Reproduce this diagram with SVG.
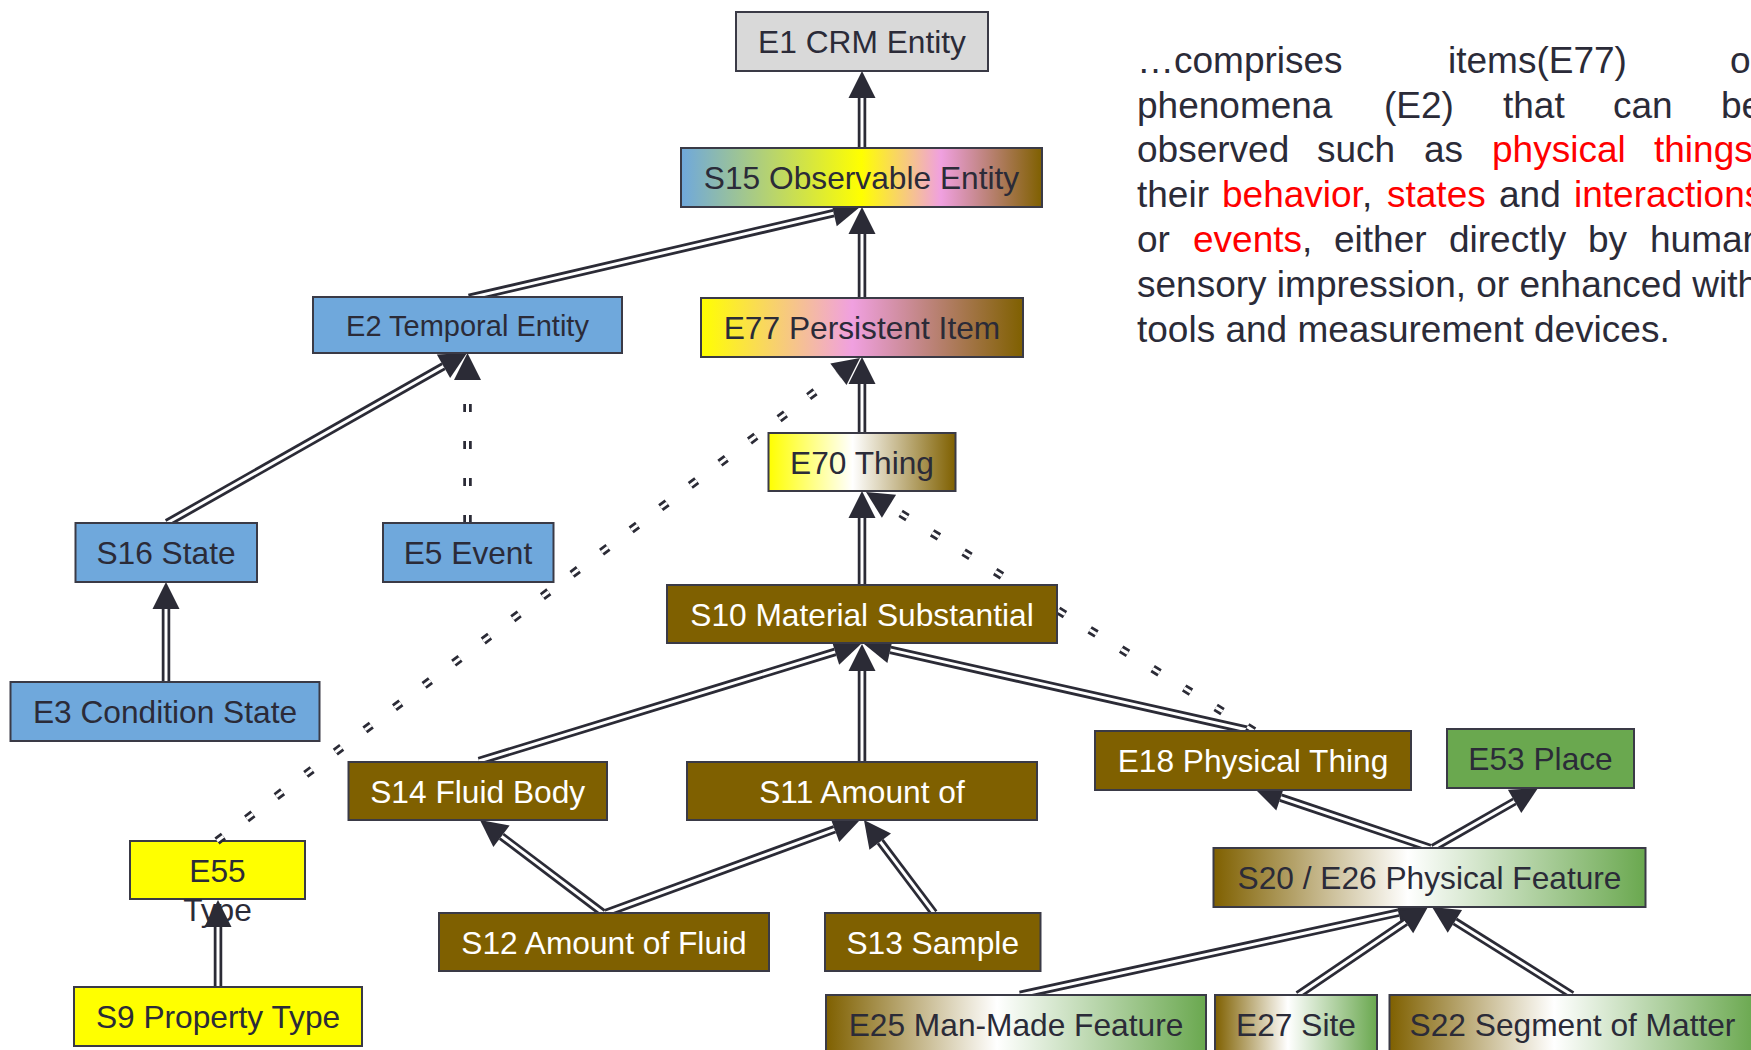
<svg xmlns="http://www.w3.org/2000/svg" width="1751" height="1050" viewBox="0 0 1751 1050">
<defs>
<style>
.node rect{stroke:#3a3a46;stroke-width:2}
.node text{font-family:"Liberation Sans",Arial,sans-serif;font-size:31.7px;text-anchor:middle;fill:#2b2b38}
.node.w text{fill:#ffffff}
.o{fill:none;stroke:#2b2b36;stroke-width:8.5}
.i{fill:none;stroke:#ffffff;stroke-width:3;marker-end:url(#ah)}
.d{stroke-dasharray:8 29}
.p{font-family:"Liberation Sans",Arial,sans-serif;font-size:37px;fill:#2b2b38}
.r{fill:#ff0000}
</style>
<marker id="ah" markerUnits="userSpaceOnUse" markerWidth="27" markerHeight="27" viewBox="0 0 27 27" refX="0" refY="13.5" orient="auto" overflow="visible">
<path d="M0,0 L27,13.5 L0,27 Z" fill="#2b2b36"/>
</marker>
<linearGradient id="gS15" x1="0" y1="0" x2="1" y2="0">
<stop offset="0" stop-color="#6fa8dc"/><stop offset="0.5" stop-color="#ffff00"/><stop offset="0.72" stop-color="#f0a0e0"/><stop offset="1" stop-color="#7f6000"/>
</linearGradient>
<linearGradient id="gE77" x1="0" y1="0" x2="1" y2="0">
<stop offset="0" stop-color="#ffff00"/><stop offset="0.47" stop-color="#f0a0e0"/><stop offset="1" stop-color="#7f6000"/>
</linearGradient>
<linearGradient id="gE70" x1="0" y1="0" x2="1" y2="0">
<stop offset="0" stop-color="#ffff00"/><stop offset="0.45" stop-color="#ffffff"/><stop offset="1" stop-color="#7f6000"/>
</linearGradient>
<linearGradient id="gPF" x1="0" y1="0" x2="1" y2="0">
<stop offset="0" stop-color="#7f6000"/><stop offset="0.45" stop-color="#ffffff"/><stop offset="1" stop-color="#6aa84f"/>
</linearGradient>
</defs>
<rect width="1751" height="1050" fill="#ffffff"/>

<g id="E55" class="node"><rect x="130" y="841" width="175" height="58" fill="#ffff00"/><text x="217.5" y="881.5">E55</text><text x="217.5" y="921">Type</text></g>

<g id="connectors">
<g id="c-S15-E1"><path class="o" d="M862,148 L862,98"/><path class="i" d="M862,148 L862,98"/></g>
<g id="c-E77-S15"><path class="o" d="M862,298 L862,234"/><path class="i" d="M862,298 L862,234"/></g>
<g id="c-E2-S15"><path class="o" d="M469,298 L833.7,213.1"/><path class="i" d="M469,298 L833.7,213.1"/></g>
<g id="c-E70-E77"><path class="o" d="M862,433 L862,384"/><path class="i" d="M862,433 L862,384"/></g>
<g id="c-S10-E70"><path class="o" d="M862,585 L862,518"/><path class="i" d="M862,585 L862,518"/></g>
<g id="c-S16-E2"><path class="o" d="M167,523 L443.5,366.3"/><path class="i" d="M167,523 L443.5,366.3"/></g>
<g id="c-E5-E2"><path class="o d" d="M467.5,523 L467.5,380"/><path class="i d" d="M467.5,523 L467.5,380"/></g>
<g id="c-E3-S16"><path class="o" d="M166,682 L166,609"/><path class="i" d="M166,682 L166,609"/></g>
<g id="c-S11-S10"><path class="o" d="M862,762 L862,671"/><path class="i" d="M862,762 L862,671"/></g>
<g id="c-S14-S10"><path class="o" d="M479,761 L835.2,651.9"/><path class="i" d="M479,761 L835.2,651.9"/></g>
<g id="c-E18-S10"><path class="o" d="M1252,731 L890.3,649.9"/><path class="i" d="M1252,731 L890.3,649.9"/></g>
<g id="c-E18-E70"><path class="o d" d="M1254,731 L889,506.2"/><path class="i d" d="M1254,731 L889,506.2"/></g>
<g id="c-E55-E77"><path class="o d" d="M217,841 L838.4,374.2"/><path class="i d" d="M217,841 L838.4,374.2"/></g>
<g id="c-S9-E55"><path class="o" d="M218,987 L218,927"/><path class="i" d="M218,987 L218,927"/></g>
<g id="c-S12-S14"><path class="o" d="M603,913 L501.5,836.3"/><path class="i" d="M603,913 L501.5,836.3"/></g>
<g id="c-S12-S11"><path class="o" d="M606,913 L834.6,829.3"/><path class="i" d="M606,913 L834.6,829.3"/></g>
<g id="c-S13-S11"><path class="o" d="M934,913 L880.2,841.6"/><path class="i" d="M934,913 L880.2,841.6"/></g>
<g id="c-S20-E18"><path class="o" d="M1430,848 L1280.6,797.6"/><path class="i" d="M1430,848 L1280.6,797.6"/></g>
<g id="c-S20-E53"><path class="o" d="M1433,848 L1514.6,801.4"/><path class="i" d="M1433,848 L1514.6,801.4"/></g>
<g id="c-E25-S20"><path class="o" d="M1020,995 L1398.6,912.7"/><path class="i" d="M1020,995 L1398.6,912.7"/></g>
<g id="c-E27-S20"><path class="o" d="M1298,995 L1405.6,922.1"/><path class="i" d="M1298,995 L1405.6,922.1"/></g>
<g id="c-S22-S20"><path class="o" d="M1572,995 L1454.9,921.4"/><path class="i" d="M1572,995 L1454.9,921.4"/></g>
</g>

<g id="E1" class="node"><rect x="736" y="12" width="252" height="59" fill="#d9d9d9"/><text x="862" y="53">E1 CRM Entity</text></g>
<g id="S15" class="node"><rect x="681" y="148" width="361" height="59" fill="url(#gS15)"/><text x="861.5" y="189">S15 Observable Entity</text></g>
<g id="E2" class="node"><rect x="313" y="297" width="309" height="56" fill="#6fa8dc"/><text x="467.5" y="335.5" style="font-size:29px">E2 Temporal Entity</text></g>
<g id="E77" class="node"><rect x="701" y="298" width="322" height="59" fill="url(#gE77)"/><text x="862" y="339">E77 Persistent Item</text></g>
<g id="E70" class="node"><rect x="768.5" y="433" width="187" height="58" fill="url(#gE70)"/><text x="862" y="474">E70 Thing</text></g>
<g id="S16" class="node"><rect x="75.5" y="523" width="181.5" height="59" fill="#6fa8dc"/><text x="166" y="564">S16 State</text></g>
<g id="E5" class="node"><rect x="383" y="523" width="170.5" height="59" fill="#6fa8dc"/><text x="468" y="564">E5 Event</text></g>
<g id="E3" class="node"><rect x="10.5" y="682" width="309" height="59" fill="#6fa8dc"/><text x="165" y="723">E3 Condition State</text></g>
<g id="S10" class="node w"><rect x="667" y="585" width="390" height="58" fill="#7f6000"/><text x="862" y="626">S10 Material Substantial</text></g>
<g id="S14" class="node w"><rect x="348.5" y="762" width="258.5" height="58" fill="#7f6000"/><text x="477.7" y="803">S14 Fluid Body</text></g>
<g id="S11" class="node w"><rect x="687" y="762" width="350" height="58" fill="#7f6000"/><text x="862" y="803">S11 Amount of</text></g>
<g id="E18" class="node w"><rect x="1095" y="731" width="316" height="59" fill="#7f6000"/><text x="1253" y="772">E18 Physical Thing</text></g>
<g id="E53" class="node"><rect x="1447" y="729" width="187" height="59" fill="#6aa84f"/><text x="1540.5" y="770">E53 Place</text></g>
<g id="S12" class="node w"><rect x="439" y="913" width="330" height="58" fill="#7f6000"/><text x="604" y="954">S12 Amount of Fluid</text></g>
<g id="S13" class="node w"><rect x="825" y="913" width="215.5" height="58" fill="#7f6000"/><text x="932.7" y="954">S13 Sample</text></g>
<g id="S20" class="node"><rect x="1213.5" y="848" width="432" height="59" fill="url(#gPF)"/><text x="1429.5" y="889">S20 / E26 Physical Feature</text></g>
<g id="S9" class="node"><rect x="74" y="987" width="288" height="59" fill="#ffff00"/><text x="218" y="1028">S9 Property Type</text></g>
<g id="E25" class="node"><rect x="826" y="995" width="380" height="59" fill="url(#gPF)"/><text x="1016" y="1036">E25 Man-Made Feature</text></g>
<g id="E27" class="node"><rect x="1215" y="995" width="162" height="59" fill="url(#gPF)"/><text x="1296" y="1036">E27 Site</text></g>
<g id="S22" class="node"><rect x="1389.5" y="995" width="366" height="59" fill="url(#gPF)"/><text x="1572.5" y="1036">S22 Segment of Matter</text></g>

<g id="description">
<text class="p" y="73"><tspan x="1137">…comprises </tspan><tspan x="1448">items(E77) </tspan><tspan x="1730">or</tspan></text>
<text class="p" y="118"><tspan x="1137">phenomena </tspan><tspan x="1384">(E2) </tspan><tspan x="1503">that </tspan><tspan x="1613">can </tspan><tspan x="1721">be</tspan></text>
<text class="p" y="162"><tspan x="1137">observed </tspan><tspan x="1317">such </tspan><tspan x="1424">as </tspan><tspan x="1492" class="r">physical </tspan><tspan x="1654" class="r">things</tspan><tspan>,</tspan></text>
<text class="p" y="207"><tspan x="1137">their </tspan><tspan x="1222" class="r">behavior</tspan><tspan>, </tspan><tspan x="1387" class="r">states </tspan><tspan x="1499">and </tspan><tspan x="1574" class="r">interactions</tspan></text>
<text class="p" y="252"><tspan x="1137">or </tspan><tspan x="1193" class="r">events</tspan><tspan>, </tspan><tspan x="1334">either </tspan><tspan x="1449">directly </tspan><tspan x="1588">by </tspan><tspan x="1650">human</tspan></text>
<text class="p" y="297" x="1137">sensory impression, or enhanced with</text>
<text class="p" y="342" x="1137">tools and measurement devices.</text>
</g>
</svg>
